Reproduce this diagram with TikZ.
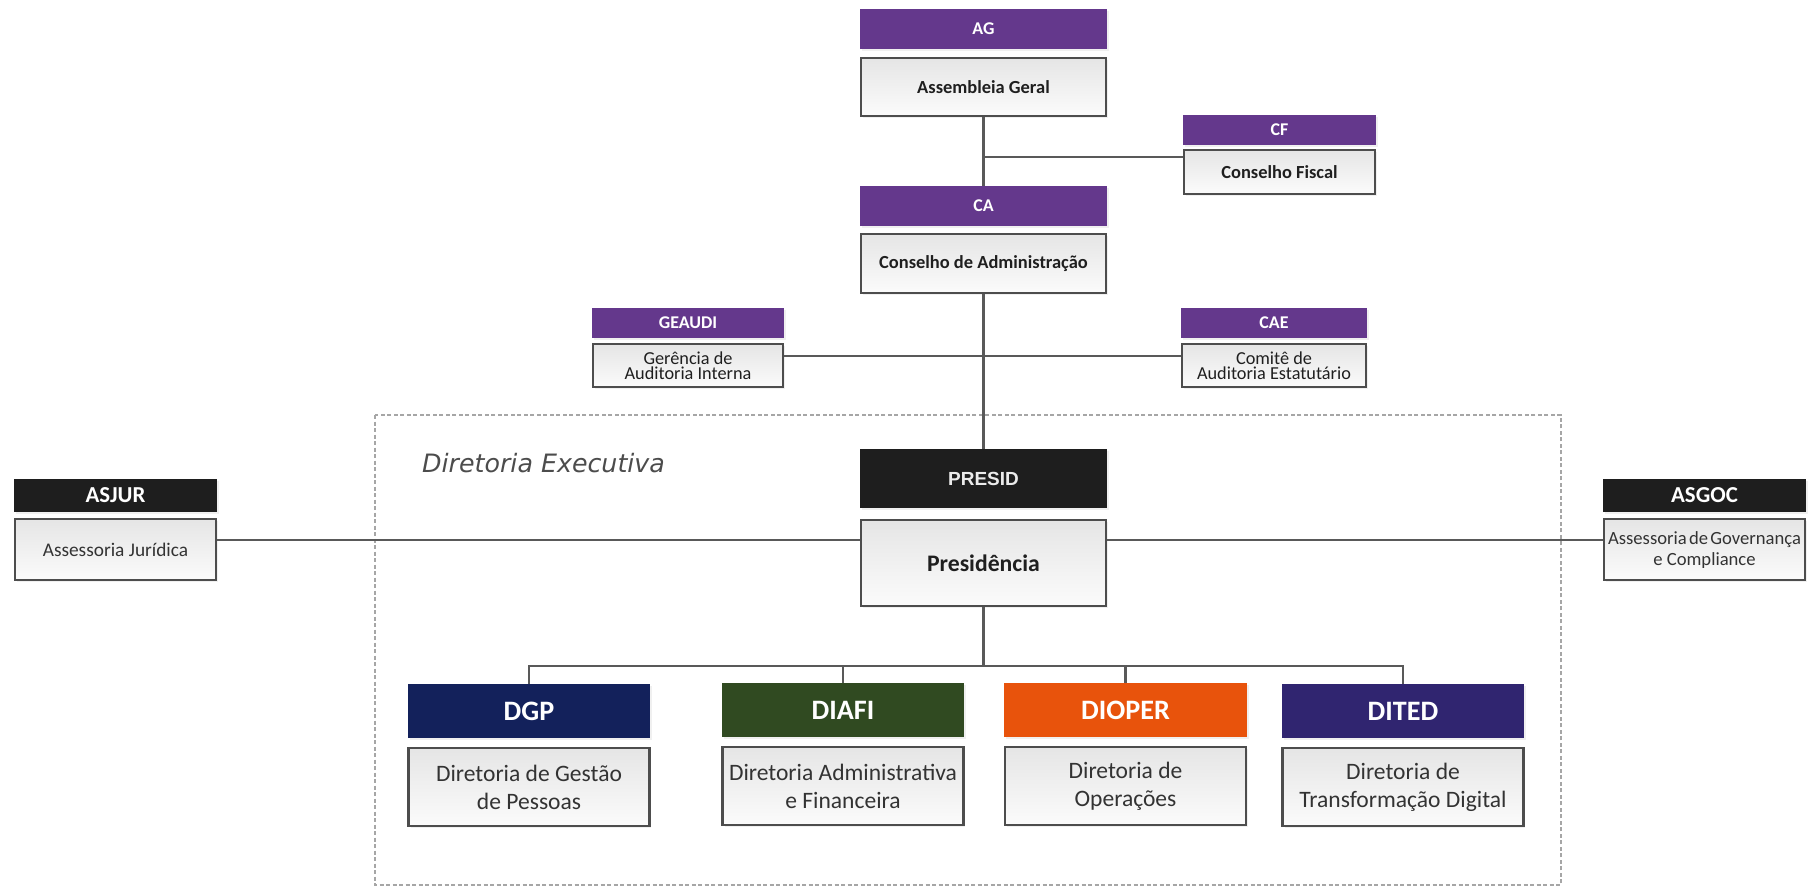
\documentclass[tikz,border=0pt]{standalone}
\usepackage{fontspec}
\setmainfont{Carlito}
\newfontfamily\arialfont{Liberation Sans}
\newfontfamily\verdanafont{DejaVu Sans}
\usepackage{xcolor}
\usepackage{tikz}
\usetikzlibrary{positioning, shadows}

\definecolor{govpurple}{RGB}{100,56,140}
\definecolor{govblack}{RGB}{30,30,30}
\definecolor{dgpblue}{RGB}{19,33,91}
\definecolor{diafigreen}{RGB}{48,74,33}
\definecolor{dioperorange}{RGB}{232,83,12}
\definecolor{ditedviolet}{RGB}{48,37,112}
\definecolor{boxline}{RGB}{77,77,77}
\definecolor{linkgray}{RGB}{89,89,89}

\begin{document}
\begin{tikzpicture}[
        x=0.02cm, y=-0.02cm,
        softshadow/.style={drop shadow={shadow xshift=0.04cm, shadow yshift=-0.04cm, opacity=0.12}},
        hdr/.style={rectangle, inner sep=0pt, text=white, softshadow},
        unitbox/.style={rectangle, draw=boxline, line width=1.2pt, top color=gray!20, bottom color=gray!3, inner sep=0pt, align=center, text=black!88, softshadow},
        tophdr/.style={hdr, fill=govpurple, minimum width=4.94cm, minimum height=0.8cm, font=\bfseries\fontsize{10.2pt}{12pt}\selectfont},
        topbox/.style={unitbox, minimum width=4.9cm, minimum height=1.16cm, font=\bfseries\fontsize{10.5pt}{12pt}\selectfont},
        sidehdr/.style={hdr, fill=govpurple, minimum height=0.6cm, font=\bfseries\fontsize{10.2pt}{12pt}\selectfont},
        sidebox/.style={unitbox, minimum height=0.86cm, font=\fontsize{10.4pt}{8.6pt}\selectfont},
        advhdr/.style={hdr, fill=govblack, minimum width=4.06cm, minimum height=0.66cm, font=\bfseries\fontsize{13pt}{14pt}\selectfont},
        advbox/.style={unitbox, minimum width=4.02cm, minimum height=1.22cm, text=black!80, font=\fontsize{10.6pt}{12pt}\selectfont},
        dirhdr/.style={hdr, minimum width=4.86cm, minimum height=1.08cm, font=\bfseries\fontsize{16pt}{18pt}\selectfont},
        dirbox/.style={unitbox, minimum width=4.82cm, minimum height=1.56cm, text=black!80, font=\fontsize{13.4pt}{16pt}\selectfont},
        link/.style={draw=linkgray, line width=1.3pt}
        ]
        \useasboundingbox (0,0) rectangle (1812,887);

        % Diretoria Executiva frame
        \draw [draw=gray!70, line width=0.6pt, dash pattern=on 2.3pt off 1.4pt] (375,415) rectangle (1561,885);
        \node (execlabel) [anchor=base west, text=black!70, font=\verdanafont\itshape\fontsize{14.4pt}{16pt}\selectfont] at (416,472) {Diretoria Executiva};

        % Governance (top)
        \node (ag) [tophdr] at (983.5,29) {AG};
        \node (agbox) [topbox, below=0.16cm of ag] {Assembleia Geral};
        \node (cf) [sidehdr, minimum width=3.86cm] at (1279.5,130) {CF};
        \node (cfbox) [topbox, minimum width=3.82cm, minimum height=0.88cm, below=0.08cm of cf] {Conselho Fiscal};
        \node (ca) [tophdr] at (983.5,206) {CA};
        \node (cabox) [topbox, minimum height=1.18cm, below=0.14cm of ca] {Conselho de Administração};

        % Audit
        \node (geaudi) [sidehdr, minimum width=3.84cm] at (688,323) {GEAUDI};
        \node (geaudibox) [sidebox, minimum width=3.8cm, below=0.1cm of geaudi] {Gerência de\\Auditoria Interna};
        \node (cae) [sidehdr, minimum width=3.72cm] at (1274,323) {CAE};
        \node (caebox) [sidebox, minimum width=3.68cm, below=0.1cm of cae] {Comitê de\\Auditoria Estatutário};

        % Presidency and advisors
        \node (presid) [hdr, fill=govblack, text=white!92!black, minimum width=4.94cm, minimum height=1.18cm, font=\arialfont\bfseries\fontsize{10.8pt}{12pt}\selectfont] at (983.5,478.5) {PRESID};
        \node (presbox) [unitbox, minimum width=4.9cm, minimum height=1.72cm, below=0.22cm of presid, font=\bfseries\fontsize{13.5pt}{15pt}\selectfont] {Presidência};
        \node (asjur) [advhdr] at (115.5,495.5) {ASJUR};
        \node (asjurbox) [advbox, below=0.12cm of asjur, font=\fontsize{11pt}{12pt}\selectfont] {Assessoria Jurídica};
        \node (asgoc) [advhdr] at (1704.5,495.5) {ASGOC};
        \node (asgocbox) [advbox, below=0.12cm of asgoc] {\spaceskip=0.12em Assessoria de Governança\\e Compliance};

        % Directorates
        \node (dgp) [dirhdr, fill=dgpblue] at (529,711) {DGP};
        \node (dgpbox) [dirbox, below=0.18cm of dgp] {Diretoria de Gestão\\de Pessoas};
        \node (diafi) [dirhdr, fill=diafigreen] at (843,710) {DIAFI};
        \node (diafibox) [dirbox, below=0.18cm of diafi] {Diretoria Administrativa\\e Financeira};
        \node (dioper) [dirhdr, fill=dioperorange] at (1125.5,710) {DIOPER};
        \node (dioperbox) [dirbox, below=0.18cm of dioper] {Diretoria de\\Operações};
        \node (dited) [dirhdr, fill=ditedviolet] at (1403,711) {DITED};
        \node (ditedbox) [dirbox, below=0.18cm of dited] {Diretoria de\\Transformação Digital};

        % Junction points
        \coordinate (cfjoin) at (983.5,157);
        \coordinate (auditjoin) at (983.5,356);
        \coordinate (advjoin) at (983.5,540);
        \coordinate (dirjoin) at (983.5,666);

        % Connectors
        \draw [link] (agbox) -- (ca);
        \draw [link] (cfjoin) -- (cfbox.west |- cfjoin);
        \draw [link] (cabox) -- (presid);
        \draw [link] (geaudibox.east |- auditjoin) -- (caebox.west |- auditjoin);
        \draw [link] (asjurbox.east |- advjoin) -- (presbox.west |- advjoin);
        \draw [link] (presbox.east |- advjoin) -- (asgocbox.west |- advjoin);
        \draw [link] (presbox) -- (dirjoin);
        \draw [link] (dgp.north) |- (dirjoin) -| (dited.north);
        \draw [link] (diafi.north) -- (diafi.north |- dirjoin);
        \draw [link] (dioper.north) -- (dioper.north |- dirjoin);

    \end{tikzpicture}
\end{document}
